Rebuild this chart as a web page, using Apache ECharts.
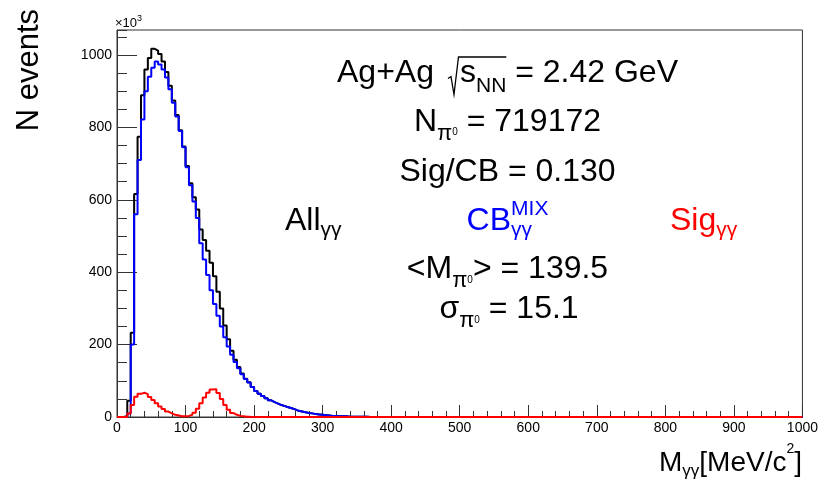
<!DOCTYPE html>
<html><head><meta charset="utf-8">
<script src="https://cdn.jsdelivr.net/npm/echarts@6/dist/echarts.min.js"></script>
<style>html,body{margin:0;padding:0;background:#fff}#c{width:821px;height:480px}</style>
</head><body><div id="c"></div>
<script>
// ---- data (units of 10^3 counts, 5 MeV bins starting at 0 MeV) ----
const binWidth = 5;
const binStart = 0;
const xMax = 1000;
const yMax = 1069;
const allValues = [
  0,0,3,45,233,616,774,889,960,992,
  1017,1012,1003,982,953,915,874,834,792,747,
  693,646,607,573,518,489,459,426,389,346,
  300,253,215,183,158,138,120,106,96,83,
  72,64,58,52,46,41,37,33,30,27,
  24,21,17,15,13,11,10,8,7,6,
  5,4,3,3,2,2,2,1,1,1,
  0.5,0.5,0.4,0.3,0.3,0.2,0.2,0.1,0.1,0
];
const cbValues = [
  0,0,0,10,200,560,710,822,900,940,
  965,982,974,960,938,905,868,830,790,745,
  690,640,595,550,480,435,392,350,312,280,
  250,220,195,172,152,135,118,105,95,83,
  72,64,58,52,46,41,37,33,30,27,
  24,21,17,15,13,11,10,8,7,6,
  5,4,3,3,2,2,2,1,1,1,
  0.5,0.5,0.4,0.3,0.3,0.2,0.2,0.1,0.1,0
];
const sigValues = [
  0,0,0,10,33,56,64,67,63,55,
  47,38,29,22,15,10,6,4,2,2,
  3,6,12,23,38,54,67,76,77,66,
  50,33,20,11,6,3,2,1,0.5,0.3,
  0,0,0,0,0,0,0,0,0,0,
  0,0,0,0,0,0,0,0,0,0,
  0,0,0,0,0,0,0,0,0,0,
  0,0,0,0,0,0,0,0,0,0
];
const xTickStep = 100;
const yTickStep = 200;
const yMinorStep = 50;

const F = '"Liberation Sans", Arial, Helvetica, sans-serif';
function steps(vals) {
  const d = vals.map((v, i) => [binStart + i * binWidth, v]);
  d.push([xMax, vals[vals.length - 1]]);
  return d;
}

const cv = document.createElement('canvas').getContext('2d');
function measure(t, s) { cv.font = s + 'px ' + F; return cv.measureText(t).width; }
function txt(x, base, t, s, color) {
  return { type: 'text', x: x, y: base - 0.35 * s, silent: true, z: 100,
    style: { text: t, font: s + 'px ' + F, fill: color, textAlign: 'left', textVerticalAlign: 'middle' } };
}
const els = [];
function layout(ax, align, base, parts, color) {
  const ws = parts.map(p => p.gap !== undefined ? p.gap :
    (p.stack ? Math.max.apply(null, p.stack.map(q => measure(q.t, q.s))) : measure(p.t, p.s)));
  const total = ws.reduce((a, b) => a + b, 0);
  let x = align === 'center' ? ax - total / 2 : (align === 'right' ? ax - total : ax);
  const xs = [];
  parts.forEach((p, i) => {
    xs.push(x);
    if (p.stack) p.stack.forEach(q => els.push(txt(x, base + (q.dy || 0), q.t, q.s, color)));
    else if (p.t) els.push(txt(x, base + (p.dy || 0), p.t, p.s, color));
    x += ws[i];
  });
  xs.push(x);
  return xs;
}
const M = 32, S = 21, P0 = 10;
// line 1 with radical
const l1base = 84.5;
const xs1 = layout(507.5, 'center', l1base, [
  { t: 'Ag+Ag', s: M }, { gap: 16 }, { gap: 10 }, { t: 's', s: M }, { t: 'NN', s: S, dy: 9 }, { t: ' = 2.42 GeV', s: M }
], '#000');
els.push({ type: 'polyline', silent: true, z: 100,
  shape: { points: [[xs1[2] - 2, l1base - 6], [xs1[2] + 1, l1base - 8], [xs1[2] + 4, l1base + 10], [xs1[2] + 8.5, l1base - 27.5], [xs1[5], l1base - 27.5]] },
  style: { stroke: '#000', lineWidth: 1.3, fill: null } });
layout(507.5, 'center', 133, [
  { t: 'N', s: M }, { t: 'π', s: 22, dy: 8.5 }, { t: '0', s: P0, dy: 3 }, { t: ' = 719172', s: M }
], '#000');
layout(507.5, 'center', 183, [{ t: 'Sig/CB = 0.130', s: M }], '#000');
layout(285, 'left', 232, [{ t: 'All', s: M }, { t: 'γγ', s: S, dy: 6 }], '#000');
layout(507.5, 'center', 232, [{ t: 'CB', s: M }, { stack: [{ t: 'MIX', s: 21, dy: -15 }, { t: 'γγ', s: S, dy: 6 }] }], '#0000ff');
layout(670, 'left', 232, [{ t: 'Sig', s: M }, { t: 'γγ', s: S, dy: 6 }], '#ff0000');
layout(507.5, 'center', 280, [
  { t: '<M', s: M }, { t: 'π', s: 22, dy: 9 }, { t: '0', s: P0, dy: 3.5 }, { t: '> = 139.5', s: M }
], '#000');
layout(509, 'center', 320, [
  { t: 'σ', s: M }, { t: 'π', s: 22, dy: 9 }, { t: '0', s: P0, dy: 3.5 }, { t: ' = 15.1', s: M }
], '#000');
// axis titles
layout(802, 'right', 472.7, [
  { t: 'M', s: 28 }, { t: 'γγ', s: 17, dy: 5 }, { t: '[MeV/c', s: 28 }, { t: '2', s: 14, dy: -19 }, { t: ']', s: 28 }
], '#000');
layout(115, 'left', 28, [{ t: '×10', s: 13 }, { t: '3', s: 9, dy: -6 }], '#000');
els.push({ type: 'text', x: 29, y: 9, rotation: Math.PI / 2, silent: true,
  style: { text: 'N events', font: '31px ' + F, fill: '#000', textAlign: 'right', textVerticalAlign: 'middle' } });

const axisCol = '#333';
const chart = echarts.init(document.getElementById('c'), null, { renderer: 'canvas' });
chart.setOption({
  animation: false,
  backgroundColor: '#fff',
  grid: { left: 117, right: 18, top: 30, bottom: 63, show: true, borderColor: axisCol, borderWidth: 1, backgroundColor: 'transparent' },
  xAxis: {
    type: 'value', min: 0, max: xMax, interval: xTickStep,
    axisLine: { show: true, lineStyle: { color: axisCol, width: 1 } },
    axisTick: { show: true, inside: true, length: 12, lineStyle: { color: axisCol } },
    minorTick: { show: true, splitNumber: 5, length: 6, lineStyle: { color: axisCol } },
    axisLabel: { margin: 4, color: '#000', fontSize: 14, fontFamily: F, formatter: v => String(v) },
    splitLine: { show: false }
  },
  yAxis: [{
    type: 'value', min: 0, max: yMax, interval: yTickStep, position: 'left',
    axisLine: { show: true, lineStyle: { color: axisCol, width: 1 } },
    axisTick: { show: true, inside: true, length: 20, lineStyle: { color: axisCol } },
    axisLabel: { margin: 5, color: '#000', fontSize: 14, fontFamily: F, showMaxLabel: false, formatter: v => String(v) },
    splitLine: { show: false }
  }, {
    type: 'value', min: 0, max: yMax, interval: yMinorStep, position: 'left', offset: 0,
    axisLine: { show: false },
    axisTick: { show: true, inside: true, length: 10, lineStyle: { color: axisCol } },
    axisLabel: { show: false },
    splitLine: { show: false }
  }],
  series: [
    { name: 'All', type: 'line', step: 'end', data: steps(allValues), showSymbol: false, symbol: 'none',
      lineStyle: { color: '#000', width: 2 }, itemStyle: { color: '#000' }, z: 2 },
    { name: 'CB', type: 'line', step: 'end', data: steps(cbValues), showSymbol: false, symbol: 'none',
      lineStyle: { color: '#0000ff', width: 2 }, itemStyle: { color: '#0000ff' }, z: 3 },
    { name: 'Sig', type: 'line', step: 'end', data: steps(sigValues), showSymbol: false, symbol: 'none',
      lineStyle: { color: '#ff0000', width: 2 }, itemStyle: { color: '#ff0000' }, z: 4 }
  ],
  graphic: { elements: els }
});
</script></body></html>
